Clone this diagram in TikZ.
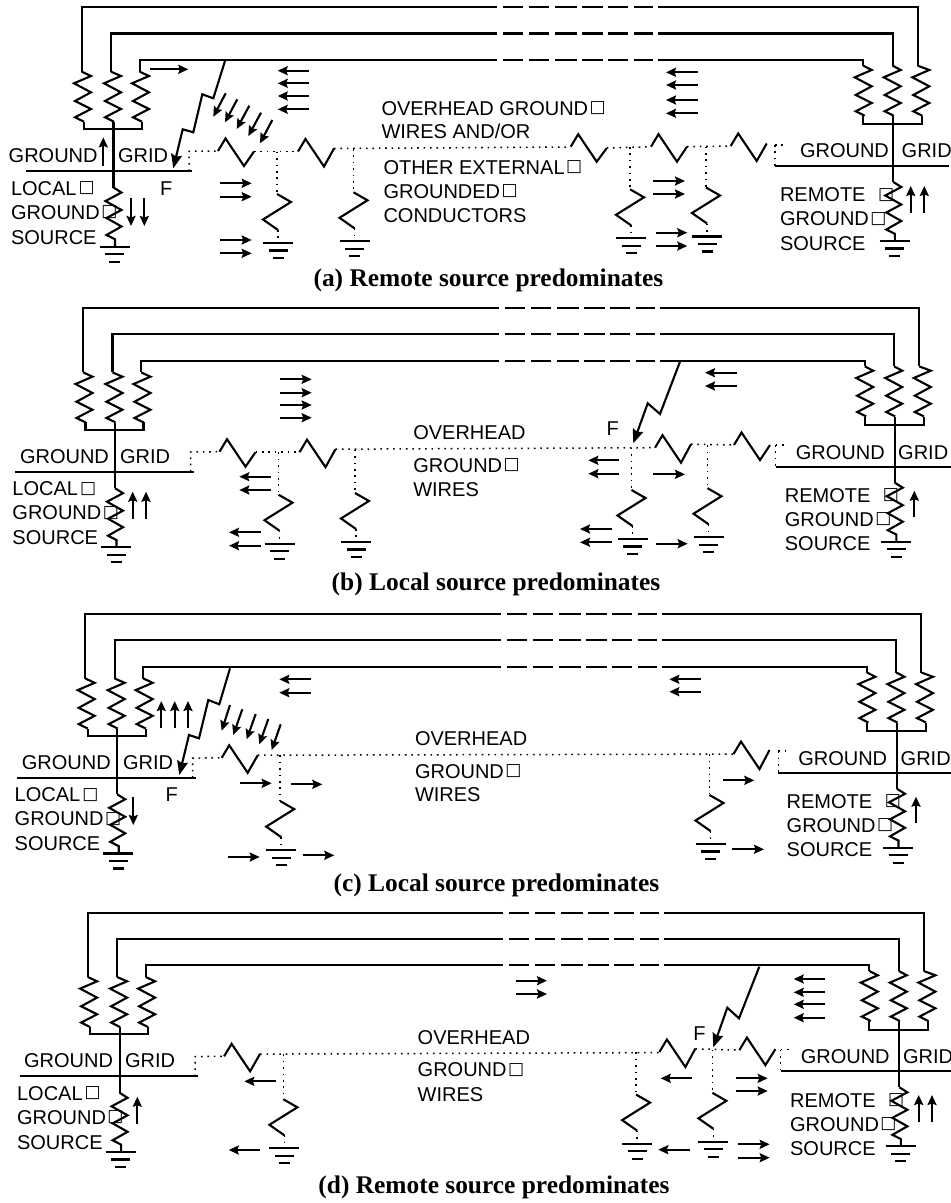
\documentclass[tikz,border=0pt]{standalone}
\usepackage{fontspec}
\setmainfont{Liberation Sans}
\newfontfamily\capfont{Liberation Serif}
\newfontfamily\symfont{DejaVu Sans}
\usetikzlibrary{arrows.meta}
\newcount\txtc
\newcommand{\sqbox}{\raisebox{2.6pt}{\fontsize{17}{18}\selectfont\symfont □}}
\newcommand{\txtn}[3]{\global\advance\txtc by 1\relax
  \node[lab] (T\the\txtc) at (#1,#2) {#3};}
\newcommand{\capn}[3]{\global\advance\txtc by 1\relax
  \node[captxt] (T\the\txtc) at (#1,#2) {#3};}
\newcommand{\upres}[3]{% start x, x0, y0
  \draw[wire] (#1,#3) -- (#2+9.3,#3+4.3) -- (#2-7.7,#3+11.6) -- (#2+9.3,#3+20.6)
    -- (#2-6.7,#3+29.3) -- (#2+9.3,#3+37.3) -- (#2-6.7,#3+45.6) -- (#2+2.3,#3+50);}
\newcommand{\srcres}[2]{% x, y0
  \draw[wire] (#1,#2) -- (#1+8,#2+5) -- (#1-8,#2+13.5) -- (#1+8,#2+22.5)
    -- (#1-7,#2+30.5) -- (#1+8,#2+39) -- (#1-7,#2+47.5) -- (#1+1.5,#2+51.8) -- (#1+1.5,#2+59);}
\newcommand{\gnd}[2]{% centre x, y
  \draw[gline] (#1-15,#2) -- (#1+15,#2);
  \draw[gline] (#1-9.5,#2+7.5) -- (#1+9.5,#2+7.5);
  \draw[gline] (#1-5.5,#2+15) -- (#1+5.5,#2+15);}
\newcommand{\react}[3]{% x, y, end dy
  \draw[wire] (#1,#2) -- (#1+7.5,#2-12.5) -- (#1+26,#2+15) -- (#1+36,#2+#3);}
\newcommand{\shunt}[3]{% x, top y, zig y
  \draw[dots] (#1,#2) -- (#1,#3);
  \draw[wire] (#1,#3) -- (#1+14,#3+8) -- (#1-14,#3+25.5) -- (#1+1,#3+36);
  \draw[dots] (#1+1,#3+36) -- (#1+1,#3+46);
  \gnd{#1+1}{#3+49}}
\newcommand{\dashrow}[1]{%
  \foreach \pa/\pb in {503/523,529/549,555/577,582/603,608/628,634/653}{\draw[wire] (\pa,#1) -- (\pb,#1);}}
% #1 grid left x, #2 GROUND x, #3 GRID x, #4 right GROUND x, #5 right GRID x, #6 REMOTE x, #7 left baseline, #8 right baseline
\newcommand{\panelbase}[8]{%
  \draw[wire] (81.7,71.7) -- (81.7,7.3) -- (497,7.3);
  \draw[wire] (111,71.7) -- (111,33.5) -- (497,33.5);
  \draw[wire] (139.7,71.7) -- (139.7,60) -- (497,60);
  \dashrow{7.3}\dashrow{33.5}\dashrow{60}
  \draw[wire] (658,7.3) -- (917.7,7.3) -- (917.7,65.7);
  \draw[wire] (658,33.5) -- (892.7,33.5) -- (892.7,65.7);
  \draw[wire] (658,60) -- (863.3,60) -- (863.3,65.7);
  \upres{81.7}{81.7}{71.7}\upres{111}{111.7}{71.7}\upres{139.7}{139.7}{71.7}
  \upres{863.3}{862.4}{65.7}\upres{892.7}{891.4}{65.7}\upres{917.7}{920}{65.7}
  \draw[wire] (84,121.7) -- (84,129) -- (142,129) -- (142,121.7);
  \draw[wire] (113.5,122) -- (113.5,187.5);
  \draw[wire] (#1,171) -- (192,171);
  \srcres{113.5}{187.5}
  \gnd{114.7}{246.7}
  \draw[wire] (863.1,116) -- (863.1,124.3) -- (922.3,124.3) -- (922.3,116);
  \draw[wire] (893.3,116) -- (893.3,182);
  \draw[wire] (774.5,166) -- (949,166);
  \srcres{893.3}{182}
  \gnd{894.5}{241}
  \txtn{#2}{#7}{GROUND}
  \txtn{#3}{#7}{GRID}
  \txtn{11}{195}{LOCAL\hspace{2pt}\sqbox}
  \txtn{11}{219}{GROUND\hspace{1.5pt}\sqbox}
  \txtn{11}{244}{SOURCE}
  \txtn{#4}{#8}{GROUND}
  \txtn{#5}{#8}{GRID}
  \txtn{#6}{201.7}{REMOTE\hspace{12.5pt}\sqbox}
  \txtn{#6}{225.7}{GROUND\hspace{1.5pt}\sqbox}
  \txtn{#6}{250}{SOURCE}
  \draw[dots] (189,171) -- (189,151.3) -- (218,151);
}
\tikzset{
  wire/.style={line width=2.1pt,line join=miter,line cap=butt},
  gline/.style={line width=2.1pt},
  dots/.style={line width=1.5pt,dash pattern=on 1.6pt off 4.8pt},
  arr/.style={line width=2.1pt,-{Stealth[length=10pt,width=9pt,inset=1.5pt]}},
  bolt/.style={line width=2.1pt,line join=miter,-{Stealth[length=14pt,width=11pt,inset=2pt]}},
  lab/.style={anchor=base west,inner sep=0pt,outer sep=0pt,font=\fontsize{20}{21}\selectfont},
  captxt/.style={anchor=base,inner sep=0pt,outer sep=0pt,font=\fontsize{25.4}{26}\selectfont\capfont\bfseries},
}
\begin{document}
\begin{tikzpicture}[x=1pt,y=-1pt]
\useasboundingbox (0,0) rectangle (951,1203);
% ---------- panel a
\panelbase{26}{8.7}{118}{800}{901.7}{780}{162.3}{157}
\react{218}{151}{0.5}
\draw[dots] (254,151.5) -- (298,151.5);
\react{298}{151.5}{-3}
\draw[dots] (334,148.5) -- (570.7,147);
\react{570.7}{146.7}{1.5}
\draw[dots] (606.7,148) -- (651,146.7);
\react{651}{146.7}{0}
\draw[dots] (687,146.7) -- (730.7,146);
\react{730.7}{146}{-2.5}
\draw[dots] (775,145) -- (784,145);
\draw[dots] (775,145) -- (775,166);
\shunt{277}{151.7}{194}
\shunt{353.5}{149}{192.3}
\shunt{630}{147}{189.3}
\shunt{706}{146.5}{187.5}
\txtn{381.5}{115}{OVERHEAD GROUND\hspace{1.5pt}\sqbox}
\txtn{381.5}{138.3}{WIRES AND/OR}
\txtn{383.5}{174}{OTHER EXTERNAL\hspace{1.5pt}\sqbox}
\txtn{383.5}{198.3}{GROUNDED\hspace{1.5pt}\sqbox}
\txtn{383.5}{222.7}{CONDUCTORS}
\txtn{160}{195.7}{F}
\capn{488.4}{286.7}{(a) Remote source predominates}
\draw[bolt] (225,61) -- (213.3,98.3) -- (202.3,94.3) -- (193.3,132.3) -- (182.7,129.3) -- (173.3,168.3);
\foreach \xa/\ya/\xb/\yb in {150/69.3/188.3/69.3,
  309.3/70.7/277.7/70.7,309.3/83.3/277.7/83.3,309.3/96/277.7/96,309.3/109.3/277.7/109.3,
  225.7/93.3/213.3/116.7,237.3/99.3/225/122.3,249.3/105.7/236.7/129,261/112.7/248.3/136,272.3/120/260/143.3,
  220/183.3/251.7/183.3,220/196.7/251.7/196.7,220/240/251.7/240,220/253.3/251.7/253.3,
  103.3/165.7/103.3/137.3,131/198.3/131/226,144.3/198.3/144.3/226,
  697.7/72.3/666/72.3,697.7/85/666/85,697.7/100/666/100,697.7/113.3/666/113.3,
  653.3/181/685/181,653.3/194/685/194,655.7/232.7/687.3/232.7,655.7/246/687.3/246,
  910.7/213.3/910.7/186,924.3/213.3/924.3/186}
  {\draw[arr] (\xa,\ya) -- (\xb,\yb);}
% ---------- panel b
\begin{scope}[shift={(1.5,300.7)}]
\panelbase{13.5}{18.5}{118.6}{794.4}{896.7}{783.4}{162.4}{158.4}
\react{218}{151}{0.5}
\draw[dots] (254,151.5) -- (298,151.5);
\react{298}{151.5}{-3}
\draw[dots] (334,148.5) -- (653.5,147);
\react{653.5}{147}{-3.5}
\draw[dots] (689.5,143.5) -- (732.5,144.3);
\react{732.5}{144.3}{0}
\draw[dots] (774.2,144.3) -- (785,144.3);
\draw[dots] (774.2,144.3) -- (774.2,165.5);
\shunt{277}{151.7}{194}
\shunt{353.5}{149}{192.3}
\shunt{630}{147}{189.3}
\shunt{706}{144.5}{187.5}
\end{scope}
\txtn{413.3}{439}{OVERHEAD}
\txtn{413.3}{472.3}{GROUND\hspace{1.5pt}\sqbox}
\txtn{413.3}{496.7}{WIRES}
\txtn{606.7}{435.7}{F}
\capn{496}{590}{(b) Local source predominates}
\draw[bolt] (680,361.7) -- (660,414) -- (647.7,403.3) -- (633.3,443.3);
\foreach \xa/\ya/\xb/\yb in {280/379.3/311.7/379.3,280/392.7/311.7/392.7,280/405/311.7/405,280/417.7/311.7/417.7,
  271/476.7/239.3/476.7,271/490/239.3/490,260.7/532.3/229/532.3,260.7/545.7/229/545.7,
  132.7/519.3/132.7/491.7,146/519.3/146/491.7,
  736.7/372.7/705/372.7,736.7/386/705/386,
  619.3/460.3/588.3/460.3,619.3/473.7/588.3/473.7,653.3/474.3/685/474.3,
  611.7/529/580/529,611.7/542.3/580/542.3,656/543.7/687.7/543.7,
  914.3/517.3/914.3/490.7}
  {\draw[arr] (\xa,\ya) -- (\xb,\yb);}
% ---------- panel c
\begin{scope}[shift={(3.7,606.8)}]
\panelbase{13.5}{18.2}{119.3}{794.6}{897}{783}{162.4}{158.4}
\react{218}{151}{-2.5}
\draw[dots] (254,148.4) -- (729.8,147.3);
\react{729.8}{147.3}{-4}
\draw[dots] (774.6,144.3) -- (785,144.3);
\draw[dots] (774.6,144.3) -- (774.6,165.5);
\shunt{276.5}{148.5}{194.3}
\shunt{705.8}{147.5}{188.2}
\end{scope}
\txtn{415}{745.3}{OVERHEAD}
\txtn{415}{778.3}{GROUND\hspace{1.5pt}\sqbox}
\txtn{415}{801.7}{WIRES}
\txtn{165.7}{801.7}{F}
\capn{496.5}{891.7}{(c) Local source predominates}
\draw[bolt] (230,668.3) -- (219.3,704.3) -- (208.3,700) -- (199,738.3) -- (189,735) -- (179.3,775);
\foreach \xa/\ya/\xb/\yb in {311/679.3/279.3/679.3,311/692.7/279.3/692.7,
  161.3/728.3/161.3/701,174.7/728.3/174.7/701,188/728.3/188/701,
  230/705/221.7/730.7,242.3/709.3/233.3/735,255.7/714/246.7/739.3,268.3/719/259.3/744.3,280.7/724.3/271.7/750,
  240/783.3/271.7/783.3,290.7/784.3/322.3/784.3,228/857/259.7/857,302.7/855.3/334.3/855.3,
  133.3/797.3/133.3/825,
  701/679.3/669.3/679.3,701/691.7/669.3/691.7,722.7/780.3/754.3/780.3,732.3/849.3/764/849.3,
  916/823.3/916/796.7}
  {\draw[arr] (\xa,\ya) -- (\xb,\yb);}
% ---------- panel d
\begin{scope}[shift={(6.1,905.3)}]
\panelbase{13.5}{18}{119}{794.7}{897}{784}{162.4}{158.4}
\react{218}{151}{-2.5}
\draw[dots] (254,148.8) -- (653.3,147.3);
\react{653.3}{146.7}{-3.5}
\draw[dots] (689.5,143.5) -- (733.3,144.8);
\react{733.3}{144.8}{-1}
\draw[dots] (774.6,144.3) -- (785,144.3);
\draw[dots] (774.6,144.3) -- (774.6,165.5);
\shunt{277.3}{149}{194}
\shunt{630}{147}{189.3}
\shunt{706.3}{144.5}{187.5}
\end{scope}
\txtn{417.7}{1044}{OVERHEAD}
\txtn{417.7}{1076.7}{GROUND\hspace{1.5pt}\sqbox}
\txtn{417.7}{1101.7}{WIRES}
\txtn{693.3}{1040}{F}
\capn{494}{1193.3}{(d) Remote source predominates}
\draw[bolt] (759.3,966.7) -- (739,1018.3) -- (727.3,1007.7) -- (713.3,1047.3);
\foreach \xa/\ya/\xb/\yb in {275.7/1081.3/244.3/1081.3,260/1150/228.7/1150,
  137.3/1124/137.3/1096.7,
  515.7/980.7/547/980.7,515.7/994/547/994,
  825/979/793.7/979,825/992.3/793.7/992.3,825/1004.3/793.7/1004.3,825/1017.7/793.7/1017.7,
  692.3/1078.3/660.7/1078.3,736/1078.3/767.7/1078.3,736/1091/767.7/1091,
  690/1149.7/658.3/1149.7,738/1144.3/769.7/1144.3,738/1157.7/769.7/1157.7,
  918.7/1122.3/918.7/1095,932/1122.3/932/1095}
  {\draw[arr] (\xa,\ya) -- (\xb,\yb);}
\end{tikzpicture}
\end{document}
